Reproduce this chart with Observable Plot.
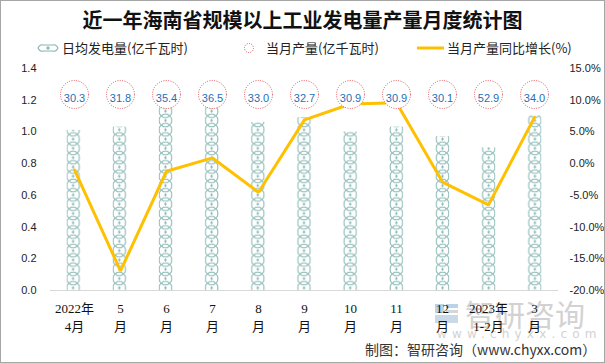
<!DOCTYPE html>
<html><head><meta charset="utf-8">
<script src="https://cdn.jsdelivr.net/npm/d3@7"></script>
<script src="https://cdn.jsdelivr.net/npm/@observablehq/plot@0.6"></script>
<style>
body{margin:0;background:#fff;}
#wrap{position:relative;width:605px;height:363px;overflow:hidden;font-family:"Noto Sans CJK SC","Noto Sans",sans-serif;background:#fff;}
#frame{position:absolute;left:0;top:0;width:605px;height:363px;box-sizing:border-box;border:1px solid #a6a6a6;pointer-events:none;z-index:5;}
#title{position:absolute;top:6px;left:0;width:605px;text-align:center;font-size:20px;line-height:28px;font-weight:bold;color:#111;}
.lg{position:absolute;top:40px;font-size:13px;line-height:16px;color:#222;white-space:nowrap;}
#chart{position:absolute;left:0;top:60px;z-index:2;}
#wm{position:absolute;left:0;top:0;z-index:1;}
#caption{position:absolute;left:365px;top:339px;font-size:14px;line-height:20px;color:#333;white-space:nowrap;}
</style></head>
<body>
<div id="wrap">
  <div id="title">近一年海南省规模以上工业发电量产量月度统计图</div>
  <svg class="lg" style="left:36px;top:43px" width="24" height="10">
    <path d="M2,5 Q4,1 7,2 L17,2 Q20,1 22,5 Q20,9 17,8 L7,8 Q4,9 2,5 Z" fill="none" stroke="#86b7b3" stroke-width="1.1"/>
    <path d="M12,3 L14,5 L12,7 L10,5 Z" fill="#86b7b3"/>
  </svg>
  <div class="lg" style="left:62px">日均发电量(亿千瓦时)</div>
  <svg class="lg" style="left:243px;top:42px" width="12" height="12">
    <circle cx="6" cy="6" r="4.5" fill="none" stroke="#e0505a" stroke-width="1" stroke-dasharray="1 1.3"/>
  </svg>
  <div class="lg" style="left:266px">当月产量(亿千瓦时)</div>
  <svg class="lg" style="left:417px;top:43px" width="27" height="10">
    <line x1="0" y1="5" x2="27" y2="5" stroke="#ffc000" stroke-width="3"/>
  </svg>
  <div class="lg" style="left:447px">当月产量同比增长(%)</div>
  <svg id="wm" width="605" height="363">
    <rect x="435" y="304" width="9" height="9" fill="#bcd2e6"/>
    <rect x="446" y="304" width="12" height="4" fill="#bcd2e6"/>
    <rect x="435" y="315" width="23" height="8" fill="#c9d9e8"/>
    <rect x="446" y="310" width="12" height="3" fill="#d6d6d6"/>
    <text x="465" y="326" font-size="30" fill="#d2d2d2" font-family="Noto Sans CJK SC">智研咨询</text>
    <text x="437" y="338" font-size="12" fill="#d2d2d2" letter-spacing="5.2" font-family="DejaVu Sans">www.chyxx.com</text>
  </svg>
  <div id="chart"></div>
  <div id="caption">制图：智研咨询（www.chyxx.com）</div>
  <div id="frame"></div>
</div>
<script>
const months = ["2022年\n4月","5\n月","6\n月","7\n月","8\n月","9\n月","10\n月","11\n月","12\n月","2023年\n1-2月","3\n月"];
const dailyAvg = [1.01,1.03,1.18,1.18,1.06,1.09,1.00,1.03,0.97,0.90,1.10];
const monthlyOutput = [30.3,31.8,35.4,36.5,33.0,32.7,30.9,30.9,30.1,52.9,34.0];
const yoyGrowth = [-1.0,-16.9,-1.2,0.9,-4.5,6.9,9.4,9.6,-2.9,-6.5,7.3];
const leftTicks = [0,0.2,0.4,0.6,0.8,1.0,1.2,1.4];
const rightTicks = [-20,-15,-10,-5,0,5,10,15];

const lMax = 1.4, rMin = -20, rMax = 15;
const toLeft = v => (v - rMin) / (rMax - rMin) * lMax;

const data = months.map((m, i) => ({m, avg: dailyAvg[i], out: monthlyOutput[i], yoy: yoyGrowth[i]}));

const W = 605, H = 280, mL = 50, mR = 47, mT = 8, mB = 50;
const numFont = "'Liberation Sans','DejaVu Sans',sans-serif";
const catFont = "'Liberation Serif','Noto Sans CJK SC',serif";

const chart = Plot.plot({
  width: W, height: H, marginLeft: mL, marginRight: mR, marginTop: mT, marginBottom: mB,
  style: {background: "transparent", fontFamily: numFont, overflow: "visible"},
  x: {domain: months, padding: 0, axis: null},
  y: {domain: [0, lMax], axis: null},
  marks: [
    Plot.barY(data, {x: "m", y: "avg", fill: "url(#barPattern)", insetLeft: 15.5, insetRight: 15.5}),
    Plot.ruleY([0], {stroke: "#d9d9d9", strokeWidth: 1}),
    Plot.line(data, {x: "m", y: d => toLeft(d.yoy), stroke: "#ffc000", strokeWidth: 3, strokeLinejoin: "miter"}),
    Plot.dot(data, {x: "m", frameAnchor: "top", dy: 26, r: 14, stroke: "#e0505a", strokeWidth: 1, strokeDasharray: "1 1.4", fill: "white"}),
    Plot.text(data, {x: "m", frameAnchor: "top", dy: 26, text: d => d.out.toFixed(1), fill: "#1f6fb5", fontSize: 11}),
    Plot.text(leftTicks, {y: d => d, text: d => d.toFixed(1), frameAnchor: "left", textAnchor: "end", dx: -14, fontSize: 11, fill: "#222"}),
    Plot.text(rightTicks, {y: d => toLeft(d), text: d => d.toFixed(1) + "%", frameAnchor: "right", textAnchor: "start", dx: 11, fontSize: 11, fill: "#222"}),
    Plot.text(months, {x: d => d, text: d => d, frameAnchor: "bottom", lineAnchor: "top", dy: 10, lineHeight: 1.38, fontSize: 13, fill: "#111", fontFamily: catFont})
  ]
});

// pattern for the bars, tiled per band so each bar is centered
const step = (W - mL - mR) / months.length;
const defs = d3.select(chart).insert("defs", ":first-child");
const pat = defs.append("pattern").attr("id", "barPattern").attr("patternUnits", "userSpaceOnUse")
  .attr("x", mL).attr("y", 0).attr("width", step).attr("height", 9.3);
pat.append("rect").attr("width", step).attr("height", 9.3).attr("fill", "white");
const g = pat.append("g").attr("transform", `translate(${step / 2},4.65)`)
  .attr("fill", "none").attr("stroke", "#86b7b3").attr("stroke-width", 1);
g.append("path").attr("d", "M-4,-4.65 Q-7,-2.5 -6,0 Q-7,2.5 -4,4.65");
g.append("path").attr("d", "M4,-4.65 Q7,-2.5 6,0 Q7,2.5 4,4.65");
g.append("path").attr("d", "M-4,-4.65 L-2,-3 L2,-3 L4,-4.65");
g.append("path").attr("d", "M-4,4.65 L-2,3 L2,3 L4,4.65");
g.append("path").attr("d", "M0,-1.8 L1.3,0 L0,1.8 L-1.3,0 Z").attr("fill", "#86b7b3").attr("stroke", "none");

document.getElementById("chart").appendChild(chart);
</script>
</body></html>
